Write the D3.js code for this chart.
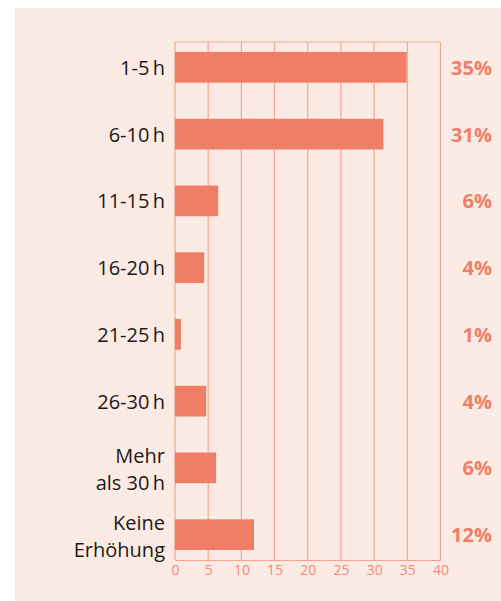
<!DOCTYPE html>
<html>
<head>
<meta charset="utf-8">
<script src="https://cdnjs.cloudflare.com/ajax/libs/d3/7.8.5/d3.min.js"></script>
<style>
  body { margin: 0; background: #fff; }
  svg { display: block; font-family: "Open Sans", "Lato", sans-serif; }
</style>
</head>
<body>
<script>
// data
var categories = [["1-5\u2009h"], ["6-10\u2009h"], ["11-15\u2009h"], ["16-20\u2009h"],
                  ["21-25\u2009h"], ["26-30\u2009h"], ["Mehr", "als 30\u2009h"], ["Keine", "Erhöhung"]];
var values = [34.9, 31.4, 6.5, 4.4, 0.9, 4.7, 6.2, 11.9];
var labels = ["35%", "31%", "6%", "4%", "1%", "4%", "6%", "12%"];
var ticks = [0, 5, 10, 15, 20, 25, 30, 35, 40];

var W = 501, H = 601;
var barColor = "#f07e67", gridColor = "#f3a592", tickColor = "#f08a72";

var svg = d3.select("body").append("svg")
    .attr("width", W).attr("height", H);

// panel
svg.append("rect").attr("x", 15).attr("y", 8)
    .attr("width", W - 15).attr("height", H - 8)
    .attr("fill", "#fcebe4");

var plotTop = 42, plotBottom = 560;
var x = d3.scaleLinear().domain([0, 40]).range([175, 440.5]);
var y = d3.scaleBand().domain(d3.range(categories.length))
    .range([plotTop, plotBottom]).paddingInner(0.54).paddingOuter(0.15);

// grid
svg.append("g").selectAll("line").data(ticks).join("line")
    .attr("x1", d => x(d)).attr("x2", d => x(d))
    .attr("y1", plotTop).attr("y2", plotBottom)
    .attr("stroke", gridColor).attr("stroke-width", 1.2);
svg.append("line").attr("x1", x(0)).attr("x2", x(40))
    .attr("y1", plotTop).attr("y2", plotTop)
    .attr("stroke", gridColor).attr("stroke-width", 1.2);

// bars
svg.append("g").selectAll("rect").data(values).join("rect")
    .attr("x", x(0))
    .attr("y", (d, i) => y(i))
    .attr("width", d => x(d) - x(0))
    .attr("height", y.bandwidth())
    .attr("fill", barColor);

// x axis
var xAxis = svg.append("g").attr("transform", "translate(0," + plotBottom + ")")
    .call(d3.axisBottom(x).tickValues(ticks).tickSize(0).tickPadding(5));
xAxis.select(".domain").attr("stroke", gridColor).attr("stroke-width", 1.2);
xAxis.selectAll("text").attr("fill", tickColor)
    .style("font-size", "14px").style("font-family", "'Open Sans', sans-serif");

// category labels, two-line ones as separate texts
var catG = svg.append("g")
    .attr("text-anchor", "end")
    .attr("fill", "#1a1a1a")
    .style("font-size", "20px");
categories.forEach(function(d, i) {
  var c = y(i) + y.bandwidth() / 2;
  if (d.length === 1) {
    catG.append("text").attr("x", 165).attr("y", c + 7.5).text(d[0]);
  } else {
    catG.append("text").attr("x", 165).attr("y", c - 5).text(d[0]);
    catG.append("text").attr("x", 165).attr("y", c + 22).text(d[1]);
  }
});

// percent labels
svg.append("g").selectAll("text").data(labels).join("text")
    .attr("x", 492)
    .attr("y", (d, i) => y(i) + y.bandwidth() / 2 + 7.5)
    .attr("text-anchor", "end")
    .attr("fill", barColor)
    .style("font-size", "20px").style("font-weight", "bold")
    .text(d => d);
</script>
</body>
</html>
